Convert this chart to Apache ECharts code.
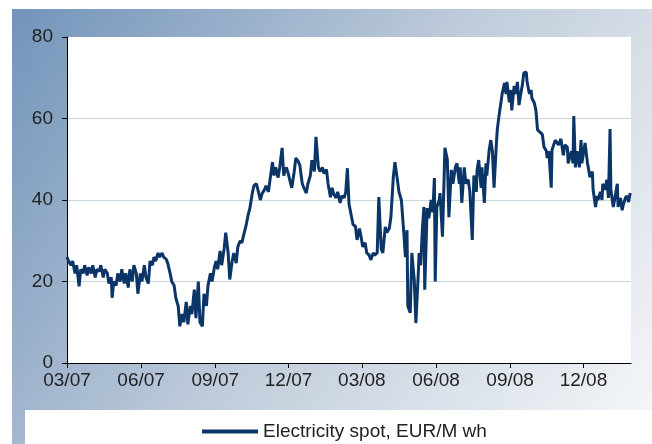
<!DOCTYPE html>
<html><head><meta charset="utf-8">
<script src="https://cdn.jsdelivr.net/npm/echarts@6/dist/echarts.min.js"></script>
<style>html,body{margin:0;padding:0;background:#fff}#c{width:652px;height:444px}</style>
</head><body><div id="c"></div><script>
// days since 2007-03-01
const dayOffsets = [
0,2,5,7,10,12,15,17,20,22,25,27,30,32,35,37,40,42,45,47,50,52,55,56,58,61,63,66,68,71,73,76,78,81,83,86,88,91,93,96,
98,101,103,106,108,110,113,115,118,120,123,125,128,130,133,135,138,140,143,145,148,150,153,155,158,160,163,165,168,170,173,175,178,180,183,185,187,190,192,195,197,200,202,205,207,210,212,215,
217,220,222,225,227,230,232,235,237,240,242,245,247,250,252,255,257,259,262,264,267,269,272,274,277,279,282,284,287,289,292,294,297,299,302,304,307,309,312,314,
317,319,322,324,327,329,331,334,336,339,341,344,346,348,350,353,355,358,360,363,365,367,370,372,375,377,380,382,385,387,390,392,395,397,400,402,405,407,410,412,
415,417,418,420,422,423,426,428,431,433,436,437,439,441,443,444,447,449,452,454,456,457,459,462,463,466,468,469,472,474,477,479,482,484,487,488,490,493,495,498,500,503,
505,508,509,511,514,515,518,520,521,524,526,528,530,533,534,536,539,540,543,545,546,549,551,552,555,557,559,561,564,565,567,570,571,574,576,577,580,582,584,586,588,590,592,595,596,598,601,
602,606,610,613,616,618,621,622,626,628,629,631,633,636,638,639,643,646,647,649,652,653,656,658,659,662,664,665,668,670,672,674,675,678,680,683,684,687,689,690,693,695,697,699
];
// EUR/MWh
const spotPrices = [
26,25,24,25,22,24,18.8,23,22,24,21.5,23.5,22,24,21,23,22.5,24,21,23,22,19.5,21,16,20,19,22,20,23,19.5,22,18.5,23,20,24,22,17,22,20,24,
21,19.5,25,24,26,25,27,26,27,26,25.5,24.5,22,20,19,16,14,9,12,10,15,9.5,14,12,18,11,20,10,9,17,14,19,22,20,23.5,25,23,27.5,24,28,32,27,20.5,25,27,24.5,28.5,30,
29.5,32,33.5,36.5,38,41.7,43.5,44,42.5,40,41.5,42.5,43.5,42,45,49.3,46,48,45.5,48,52.8,46,48,47,44.5,43,47,50.3,49.5,48.5,44,43,41.7,44,46,49.8,47,55.5,48,47,
48,46.5,47.5,44,40.7,43,41.5,40.5,42,39.3,41,40.5,42,47.8,39,36,34,33.5,30.2,33,31,28.5,29.5,27,26.5,25.3,27,26.5,27,40.7,28,27,33.4,32,33,35.8,45.6,49.3,45,42,
40,40,32,26,32.6,14,12.3,27,20.4,9.8,22,27,24,32.6,38.3,18,38,35.5,40,37,45.4,20,38.3,40,41.7,31,45,52.8,50,35.8,47.4,44,48,49,44,48,39.3,48,44,45,42,30.2,
46,42,47.4,49.8,43,48,39.3,49,46,52.3,54.7,52,43,54,57.2,60.4,64.5,66,68.7,66,69,64,67,62,68,66,69,63.3,67,68,71.2,71.4,69,66,67,65,63.8,62,57.2,57,56.5,56,53,52,50.3,52,43,
52.3,54.7,53.5,55,51,53.5,53,49,52,49,60.6,48,52,48,54.7,49,54,49,48,45.6,47,42.5,38.3,41,40,42,40,44,42.5,45,40.5,57.4,42.5,38.3,40.5,44,38.3,40.5,37.5,38.5,40.5,41,39.5,41.7
];
const tickDays = [0, 92, 184, 275, 366, 458, 550, 641];
const tickLabels = ['03/07', '06/07', '09/07', '12/07', '03/08', '06/08', '09/08', '12/08'];
const seriesName = 'Electricity spot, EUR/M wh';

const font = '"Liberation Sans", Arial, sans-serif';
const chart = echarts.init(document.getElementById('c'), null, {renderer: 'canvas'});
chart.setOption({
  animation: false,
  graphic: [
    {type: 'rect', z: -10, shape: {x: 12, y: 9, width: 640, height: 435},
     style: {fill: new echarts.graphic.LinearGradient(0, 0, 1, 1, [
       {offset: 0, color: '#7294ba'}, {offset: 0.5, color: '#c0ccdb'}, {offset: 1, color: '#f6f8fa'}])}},
    {type: 'rect', z: -9, shape: {x: 25, y: 410, width: 627, height: 34}, style: {fill: '#ffffff'}}
  ],
  grid: {left: 67, right: 21, top: 37, bottom: 81, show: true, backgroundColor: '#ffffff', borderWidth: 0},
  legend: {
    left: 197, top: 417, icon: 'rect', itemWidth: 56, itemHeight: 4,
    textStyle: {fontSize: 19, color: '#222', fontFamily: font},
    data: [seriesName]
  },
  xAxis: {
    type: 'value', min: 0, max: 700,
    axisLine: {show: true, lineStyle: {color: '#000', width: 1}},
    axisTick: {show: true, customValues: tickDays, length: 5, lineStyle: {color: '#000'}},
    axisLabel: {customValues: tickDays, margin: 8, fontSize: 19, color: '#222', fontFamily: font,
      formatter: v => tickLabels[tickDays.indexOf(v)] || ''},
    splitLine: {show: false}
  },
  yAxis: {
    type: 'value', min: 0, max: 80, interval: 20,
    axisLine: {show: true, lineStyle: {color: '#000', width: 1}},
    axisTick: {show: true, length: 5, lineStyle: {color: '#000'}},
    axisLabel: {margin: 14, fontSize: 19, color: '#222', fontFamily: font},
    splitLine: {show: true, showMaxLine: false, lineStyle: {color: '#c6d9df', width: 1}}
  },
  series: [{
    name: seriesName, type: 'line', showSymbol: false,
    lineStyle: {color: '#0b3567', width: 3}, itemStyle: {color: '#0b3567'},
    data: dayOffsets.map((d, i) => [d, spotPrices[i]])
  }]
});
</script></body></html>
